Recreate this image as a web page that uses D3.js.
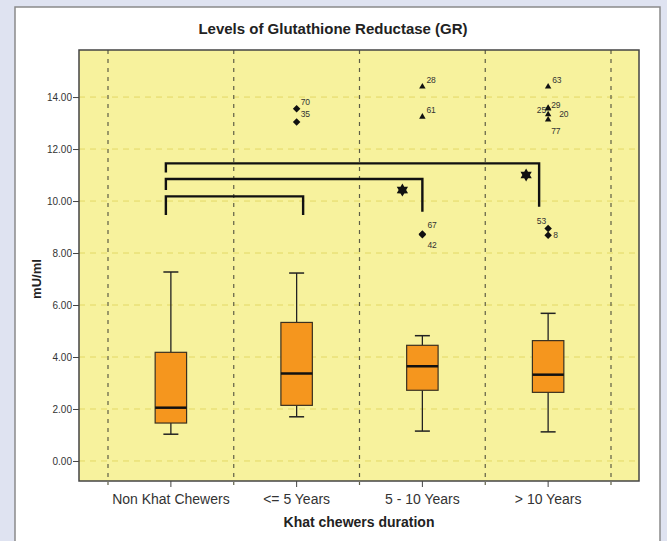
<!DOCTYPE html>
<html>
<head>
<meta charset="utf-8">
<script src="https://cdn.jsdelivr.net/npm/d3@7"></script>
<style>
  html, body { margin: 0; padding: 0; background: #dfe3f1; }
  svg { display: block; font-family: "Liberation Sans", Arial, sans-serif; }
</style>
</head>
<body>
<svg id="chart" width="667" height="541"></svg>
<script>
// Categories and box statistics (mU/ml)
const categories = ["Non Khat Chewers", "<= 5 Years", "5 - 10 Years", "> 10 Years"];
const whiskerLow = [1.03, 1.70, 1.15, 1.12];
const q1 = [1.46, 2.14, 2.72, 2.64];
const median = [2.05, 3.37, 3.64, 3.32];
const q3 = [4.18, 5.33, 4.45, 4.63];
const whiskerHigh = [7.27, 7.23, 4.82, 5.68];

// Outliers: [category index, value, case id]
const diamondOutliers = [[1, 13.55, "70"], [1, 13.04, "35"], [2, 8.73, "67"], [2, 8.70, "42"], [3, 8.94, "53"], [3, 8.68, "8"]];
const triangleOutliers = [[2, 14.40, "28"], [2, 13.24, "61"], [3, 14.40, "63"], [3, 13.58, "29"], [3, 13.55, "25"], [3, 13.33, "20"], [3, 13.13, "77"]];

// Significance brackets from category 0 to category bracketTo
const bracketTo = [1, 2, 3];
const bracketTop = [10.18, 10.85, 11.45];
const bracketLeftEnd = [9.46, 10.42, 11.10];
const bracketRightEnd = [9.46, 9.59, 9.78];
const starCat = [2, 3];
const starValue = [10.42, 11.0];

const yTicks = [0, 2, 4, 6, 8, 10, 12, 14];

// label placement for case ids [dx, dy, anchor]
const labelPos = {
  "70": [4, -4, "start"], "35": [4, -5, "start"], "67": [5, -6, "start"], "42": [5, 13, "start"],
  "53": [-2, -5, "end"], "8": [5, 3, "start"], "28": [4, -4, "start"], "61": [4, -4, "start"],
  "63": [4, -4, "start"], "29": [3, 0, "start"], "25": [-2, 4, "end"], "20": [11, 3, "start"], "77": [3, 14, "start"]
};

const svg = d3.select("#chart");
const plot = { left: 79, right: 639, top: 50, bottom: 481 };

// outer white panel
svg.append("rect")
  .attr("x", 15).attr("y", 7).attr("width", 645).attr("height", 545)
  .attr("fill", "#fff").attr("stroke", "#8a8a8a").attr("stroke-width", 1.5);

const x = d3.scaleBand().domain(categories).range([108, 611]);
const y = d3.scaleLinear().domain([-0.77, 15.81]).range([plot.bottom, plot.top]);
const cx = i => x(categories[i]) + x.bandwidth() / 2;

// plot background
svg.append("rect")
  .attr("x", plot.left).attr("y", plot.top)
  .attr("width", plot.right - plot.left).attr("height", plot.bottom - plot.top)
  .attr("fill", "#f7f29d");

// horizontal gridlines
svg.append("g").selectAll("line").data(yTicks).enter().append("line")
  .attr("x1", plot.left).attr("x2", plot.right)
  .attr("y1", d => y(d)).attr("y2", d => y(d))
  .attr("stroke", "#e3d865").attr("stroke-width", 1).attr("stroke-dasharray", "6,5");

// vertical dashed lines at band edges
const edges = categories.map(c => x(c)).concat([x.range()[1]]);
svg.append("g").selectAll("line").data(edges).enter().append("line")
  .attr("x1", d => d).attr("x2", d => d)
  .attr("y1", plot.top).attr("y2", plot.bottom + 4)
  .attr("stroke", "#5e5e45").attr("stroke-width", 1.2).attr("stroke-dasharray", "4,5");

// plot frame
svg.append("rect")
  .attr("x", plot.left).attr("y", plot.top)
  .attr("width", plot.right - plot.left).attr("height", plot.bottom - plot.top)
  .attr("fill", "none").attr("stroke", "#444").attr("stroke-width", 1.5);

// Y axis
const yAxis = svg.append("g")
  .attr("transform", `translate(${plot.left},0)`)
  .call(d3.axisLeft(y).tickValues(yTicks).tickFormat(d3.format(".2f")).tickSize(6).tickPadding(1));
yAxis.select(".domain").remove();
yAxis.selectAll("line").attr("stroke", "#444");
yAxis.selectAll("text").attr("fill", "#333").style("font-size", "10px").style("font-family", "Liberation Sans, Arial");

// X axis
const xAxis = svg.append("g")
  .attr("transform", `translate(0,${plot.bottom})`)
  .call(d3.axisBottom(x).tickSize(6).tickPadding(7));
xAxis.select(".domain").remove();
xAxis.selectAll("line").attr("stroke", "#444");
xAxis.selectAll("text").attr("fill", "#333").style("font-size", "14px").style("font-family", "Liberation Sans, Arial");

// Boxes
const boxW = x.bandwidth() * 0.25;
const capW = 15;
const boxes = svg.append("g").selectAll("g").data(categories).enter().append("g");
boxes.append("line")
  .attr("x1", (d, i) => cx(i)).attr("x2", (d, i) => cx(i))
  .attr("y1", (d, i) => y(whiskerLow[i])).attr("y2", (d, i) => y(q1[i]))
  .attr("stroke", "#222").attr("stroke-width", 1.3);
boxes.append("line")
  .attr("x1", (d, i) => cx(i)).attr("x2", (d, i) => cx(i))
  .attr("y1", (d, i) => y(q3[i])).attr("y2", (d, i) => y(whiskerHigh[i]))
  .attr("stroke", "#222").attr("stroke-width", 1.3);
[whiskerLow, whiskerHigh].forEach(arr => {
  boxes.append("line")
    .attr("x1", (d, i) => cx(i) - capW / 2).attr("x2", (d, i) => cx(i) + capW / 2)
    .attr("y1", (d, i) => y(arr[i])).attr("y2", (d, i) => y(arr[i]))
    .attr("stroke", "#222").attr("stroke-width", 1.5);
});
boxes.append("rect")
  .attr("x", (d, i) => cx(i) - boxW / 2).attr("width", boxW)
  .attr("y", (d, i) => y(q3[i])).attr("height", (d, i) => y(q1[i]) - y(q3[i]))
  .attr("fill", "#f5961e").attr("stroke", "#3a3020").attr("stroke-width", 1.2);
boxes.append("line")
  .attr("x1", (d, i) => cx(i) - boxW / 2).attr("x2", (d, i) => cx(i) + boxW / 2)
  .attr("y1", (d, i) => y(median[i])).attr("y2", (d, i) => y(median[i]))
  .attr("stroke", "#111").attr("stroke-width", 2.5);

// Outliers
const diamond = d3.symbol().type(d3.symbolSquare).size(28);
svg.append("g").selectAll("path").data(diamondOutliers).enter().append("path")
  .attr("d", diamond)
  .attr("transform", d => `translate(${cx(d[0])},${y(d[1])}) rotate(45)`)
  .attr("fill", "#111");
const tri = d3.symbol().type(d3.symbolTriangle).size(18);
svg.append("g").selectAll("path").data(triangleOutliers).enter().append("path")
  .attr("d", tri)
  .attr("transform", d => `translate(${cx(d[0])},${y(d[1])})`)
  .attr("fill", "#111");
svg.append("g").selectAll("text").data(diamondOutliers.concat(triangleOutliers)).enter().append("text")
  .attr("x", d => cx(d[0]) + labelPos[d[2]][0])
  .attr("y", d => y(d[1]) + labelPos[d[2]][1])
  .attr("text-anchor", d => labelPos[d[2]][2])
  .style("font-size", "8.5px").attr("fill", "#333")
  .text(d => d[2]);

// Significance brackets
const leftNudge = -5;
const rightNudge = [6.5, 0, -9];
const bracket = svg.append("g").attr("fill", "none").attr("stroke", "#111").attr("stroke-width", 2.4);
bracketTo.forEach((to, i) => {
  const x0 = cx(0) + leftNudge, x1 = cx(to) + rightNudge[i];
  bracket.append("path")
    .attr("d", `M${x0},${y(bracketLeftEnd[i])}V${y(bracketTop[i])}H${x1}V${y(bracketRightEnd[i])}`);
});

// six-pointed stars
function hexagram(r) {
  const pts = d3.range(12).map(k => {
    const a = -Math.PI / 2 + k * Math.PI / 6;
    const rr = k % 2 === 0 ? r : r * 0.58;
    return [rr * Math.cos(a), rr * Math.sin(a)];
  });
  return "M" + pts.map(p => p.join(",")).join("L") + "Z";
}
svg.append("g").selectAll("path").data(starCat).enter().append("path")
  .attr("d", hexagram(6.5))
  .attr("transform", (d, i) => `translate(${cx(d) - (i === 0 ? 20 : 22)},${y(starValue[i])})`)
  .attr("fill", "#111");

// Titles
svg.append("text")
  .attr("x", 333).attr("y", 34)
  .attr("text-anchor", "middle")
  .style("font-size", "15px").style("font-weight", "bold").attr("fill", "#222")
  .text("Levels of Glutathione Reductase (GR)");

svg.append("text")
  .attr("x", 359).attr("y", 527)
  .attr("text-anchor", "middle")
  .style("font-size", "14px").style("font-weight", "bold").attr("fill", "#222")
  .text("Khat chewers duration");

svg.append("text")
  .attr("transform", `translate(41,${y(7)}) rotate(-90)`)
  .attr("text-anchor", "middle")
  .style("font-size", "13px").style("font-weight", "bold").attr("fill", "#222")
  .text("mU/ml");
</script>
</body>
</html>
